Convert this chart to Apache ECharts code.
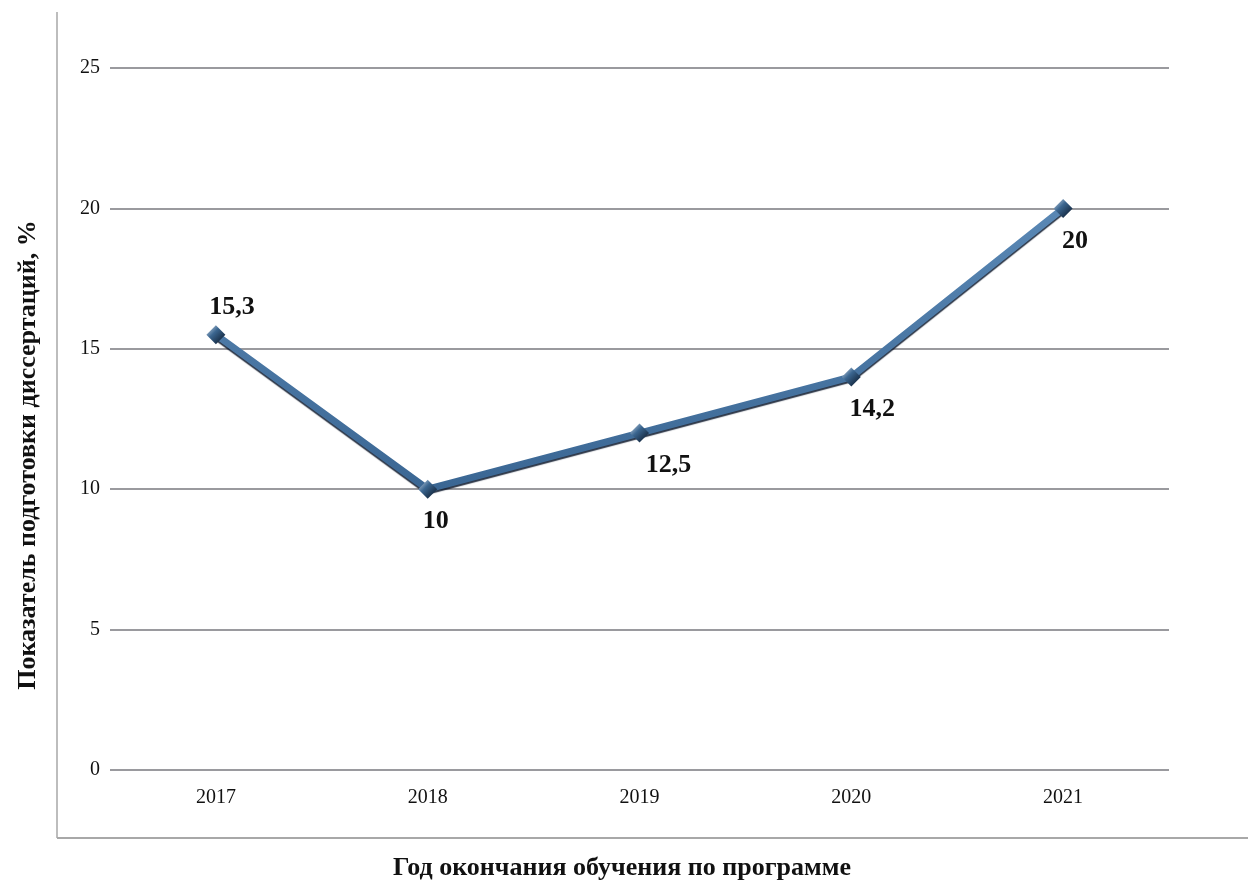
<!DOCTYPE html>
<html>
<head>
<meta charset="utf-8">
<script src="https://cdn.jsdelivr.net/npm/echarts@6/dist/echarts.min.js"></script>
<style>html,body{margin:0;padding:0;background:#fff;}#c{width:1248px;height:881px;}</style>
</head>
<body>
<div id="c"></div>
<script>
const categories = ['2017', '2018', '2019', '2020', '2021'];
const values = [15.5, 10, 12, 14, 20];
const valueLabels = ['15,3', '10', '12,5', '14,2', '20'];
const yTicks = [0, 5, 10, 15, 20, 25];
const xTitle = 'Год окончания обучения по программе';
const yTitle = 'Показатель подготовки диссертаций, %';

const labelOffsets = [[16, 'top', 5], [8, 'bottom', 10], [29, 'bottom', 10], [21, 'bottom', 10], [12, 'bottom', 10]];
const serif = '"Liberation Serif", "DejaVu Serif", serif';

const chart = echarts.init(document.getElementById('c'));
chart.setOption({
  animation: false,
  backgroundColor: '#fff',
  grid: { left: 110, right: 79, top: 68, bottom: 111 },
  xAxis: {
    type: 'category',
    data: categories,
    boundaryGap: true,
    axisLine: { show: false },
    axisTick: { show: false },
    axisLabel: { color: '#111', fontFamily: serif, fontSize: 20, margin: 18 }
  },
  yAxis: {
    type: 'value',
    min: yTicks[0],
    max: yTicks[yTicks.length - 1],
    interval: 5,
    axisLine: { show: false },
    axisTick: { show: false },
    axisLabel: { color: '#111', fontFamily: serif, fontSize: 20, margin: 10 },
    splitLine: { lineStyle: { color: '#9a9a9e', width: 2 } }
  },
  graphic: [
    { type: 'line', shape: { x1: 57, y1: 12, x2: 57, y2: 838 }, style: { stroke: '#bdbdbd', lineWidth: 2 } },
    { type: 'line', shape: { x1: 57, y1: 838, x2: 1248, y2: 838 }, style: { stroke: '#a8a8a8', lineWidth: 2 } },
    { type: 'text', x: 622, y: 868, style: { text: xTitle, font: 'bold 26px ' + serif, fill: '#111', textAlign: 'center', textVerticalAlign: 'middle' } },
    { type: 'text', x: 28, y: 455, rotation: Math.PI / 2, style: { text: yTitle, font: 'bold 26px ' + serif, fill: '#111', textAlign: 'center', textVerticalAlign: 'middle' } }
  ],
  series: [{
    type: 'line',
    data: values.map((v, i) => ({
      value: v,
      label: {
        show: true,
        position: labelOffsets[i][1],
        offset: [labelOffsets[i][0], 0],
        distance: labelOffsets[i][2],
        formatter: () => valueLabels[i]
      }
    })),
    symbol: 'diamond',
    symbolSize: 19,
    lineStyle: {
      width: 7,
      color: new echarts.graphic.LinearGradient(0, 0, 0, 1, [
        { offset: 0, color: '#5a88b5' },
        { offset: 1, color: '#3a6693' }
      ]),
      shadowColor: 'rgba(8,20,40,0.85)',
      shadowBlur: 1,
      shadowOffsetY: 2
    },
    itemStyle: {
      color: new echarts.graphic.LinearGradient(0, 0, 1, 1, [
        { offset: 0, color: '#d3deeb' },
        { offset: 0.4, color: '#3b6690' },
        { offset: 1, color: '#06101f' }
      ]),
      borderWidth: 0
    },
    label: {
      fontFamily: serif,
      fontSize: 26,
      fontWeight: 'bold',
      color: '#111'
    },
    z: 3
  }]
});
</script>
</body>
</html>
